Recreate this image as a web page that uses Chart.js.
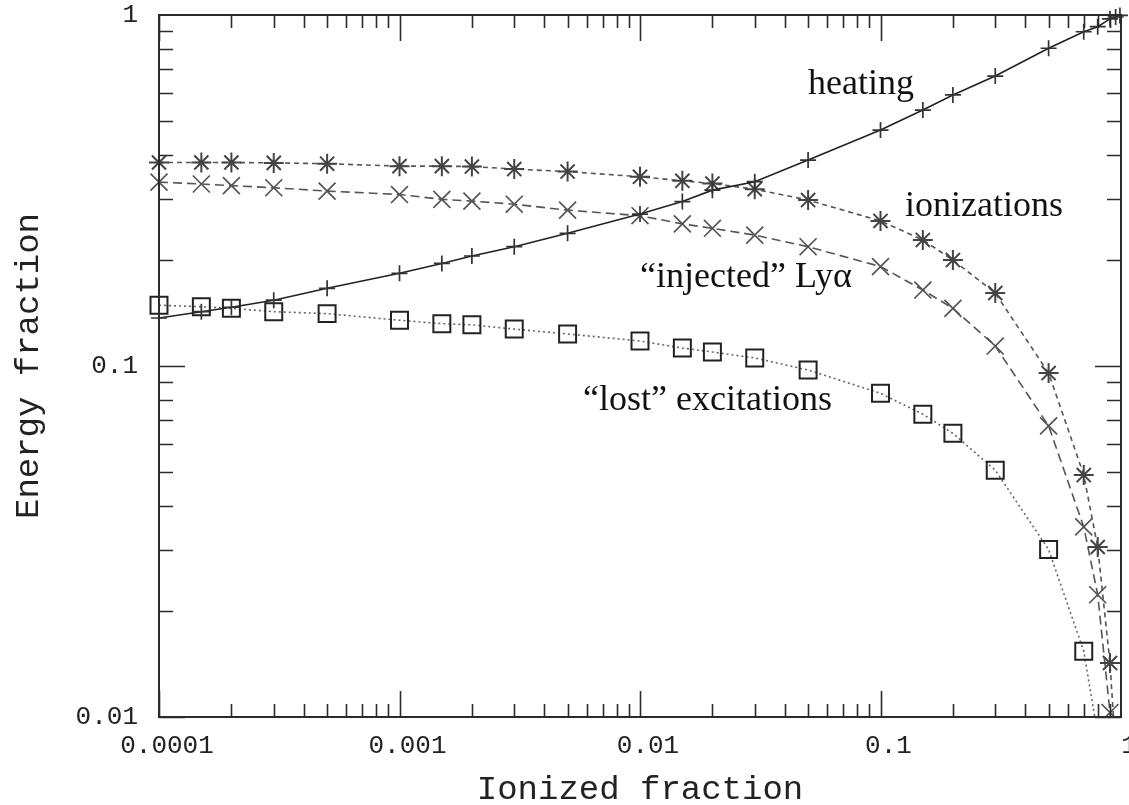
<!DOCTYPE html>
<html>
<head>
<meta charset="utf-8">
<title>Energy fraction vs ionized fraction</title>
<script src="https://cdn.jsdelivr.net/npm/chart.js@4/dist/chart.umd.min.js"></script>
<style>
    html, body { margin: 0; padding: 0; background: #fff; }
    #wrap { width: 1129px; height: 805px; position: relative; }
</style>
</head>
<body>
<div id="wrap"><canvas id="chart"></canvas></div>
<script>
// ionized fraction (x) shared by all curves
const ionizedFraction = [1e-4, 1.5e-4, 2e-4, 3e-4, 5e-4, 1e-3, 1.5e-3, 2e-3, 3e-3, 5e-3,
    0.01, 0.015, 0.02, 0.03, 0.05, 0.1, 0.15, 0.2, 0.3, 0.5, 0.7, 0.8, 0.9, 0.95, 0.99];

const heating = [0.137, 0.1428, 0.147, 0.154, 0.1665, 0.1837, 0.196, 0.2058, 0.2187, 0.2388,
    0.271, 0.294, 0.317, 0.335, 0.386, 0.470, 0.536, 0.592, 0.670, 0.804, 0.896, 0.926, 0.975, 0.987, 0.997];
const ionizations = [0.38, 0.38, 0.38, 0.379, 0.377, 0.371, 0.371, 0.37, 0.364, 0.358,
    0.346, 0.337, 0.331, 0.319, 0.297, 0.259, 0.2286, 0.2004, 0.1614, 0.0955, 0.0489, 0.0305, 0.01425, 0.008, null];
const injectedLya = [0.334, 0.330, 0.3265, 0.322, 0.315, 0.308, 0.2985, 0.295, 0.289, 0.278,
    0.268, 0.254, 0.2468, 0.236, 0.2187, 0.192, 0.1646, 0.146, 0.114, 0.0675, 0.0348, 0.0223, 0.0103, 0.006, null];
const lostExcitations = [0.149, 0.1475, 0.146, 0.1428, 0.141, 0.135, 0.132, 0.131, 0.1274, 0.1234,
    0.1178, 0.1125, 0.1096, 0.1054, 0.0974, 0.0836, 0.0729, 0.0643, 0.0505, 0.030, 0.0154, 0.0089, null, null, null];

const xTickValues = [1e-4, 1e-3, 0.01, 0.1, 1];
const xTickLabels = ['0.0001', '0.001', '0.01', '0.1', '1'];
const yTickValues = [0.01, 0.1, 1];
const yTickLabels = ['0.01', '0.1', '1'];

// curve labels, anchored at data coordinates (left edge, baseline)
const curveLabels = ['heating', 'ionizations', '\u201cinjected\u201d Ly\u03b1', '\u201clost\u201d excitations'];
const curveLabelX = [0.05, 0.1265, 0.01, 0.0058];
const curveLabelY = [0.595, 0.2676, 0.168, 0.0749];

const toPoints = ys => ionizedFraction.map((x, i) => ({ x: x, y: ys[i] })).filter(p => p.y !== null);

const monoFont = 'Liberation Mono, Courier New, monospace';

function series(label, ys, style) {
    return Object.assign({
        label: label,
        data: toPoints(ys),
        fill: false,
        tension: 0,
        borderWidth: 1.6,
        pointBorderWidth: 1.7,
        pointBackgroundColor: 'rgba(0,0,0,0)',
        clip: { left: 15, top: 15, right: 12, bottom: 0 }
    }, style);
}

// inward ticks on all four sides plus the frame
const frameTicks = {
    id: 'frameTicks',
    afterDatasetsDraw(chart) {
        const { ctx, chartArea: a } = chart;
        const xs = chart.scales.x, ys = chart.scales.y;
        ctx.save();
        ctx.strokeStyle = '#2b2b2b';
        ctx.lineWidth = 1.6;
        ctx.beginPath();
        for (let d = -4; d < 0; d++) {
            for (let m = 1; m <= 9; m++) {
                const v = m * Math.pow(10, d);
                const px = Math.round(xs.getPixelForValue(v)) + 0.5;
                const len = m === 1 ? 26 : 13;
                ctx.moveTo(px, a.bottom); ctx.lineTo(px, a.bottom - len);
                ctx.moveTo(px, a.top); ctx.lineTo(px, a.top + len);
            }
        }
        for (let d = -2; d < 0; d++) {
            for (let m = 1; m <= 9; m++) {
                const v = m * Math.pow(10, d);
                const py = Math.round(ys.getPixelForValue(v)) + 0.5;
                const len = m === 1 ? 26 : 14;
                ctx.moveTo(a.left, py); ctx.lineTo(a.left + len, py);
                ctx.moveTo(a.right, py); ctx.lineTo(a.right - len, py);
            }
        }
        ctx.stroke();
        ctx.lineWidth = 2;
        ctx.strokeRect(a.left, a.top, a.right - a.left, a.bottom - a.top);

        ctx.fillStyle = '#111';
        ctx.font = '36px "Liberation Serif", "Times New Roman", serif';
        ctx.textBaseline = 'alphabetic';
        ctx.textAlign = 'left';
        curveLabels.forEach((t, i) => {
            ctx.fillText(t, xs.getPixelForValue(curveLabelX[i]), ys.getPixelForValue(curveLabelY[i]));
        });
        ctx.restore();
    }
};

const ctx = document.getElementById('chart').getContext('2d');
new Chart(ctx, {
    type: 'line',
    data: {
        datasets: [
            series('heating', heating, {
                borderColor: '#222', pointStyle: 'cross', pointRadius: 8, pointBorderColor: '#333'
            }),
            series('ionizations', ionizations, {
                borderColor: '#555', borderDash: [5, 4], pointStyle: 'star', pointRadius: 10, pointBorderColor: '#444', pointBorderWidth: 2
            }),
            series('injected', injectedLya, {
                borderColor: '#555', borderDash: [9, 5], pointStyle: 'crossRot', pointRadius: 12, pointBorderColor: '#555'
            }),
            series('lost', lostExcitations, {
                borderColor: '#666', borderDash: [2, 3], pointStyle: 'rect', pointRadius: 12, pointBorderColor: '#222', pointBorderWidth: 2
            })
        ]
    },
    options: {
        responsive: true,
        maintainAspectRatio: false,
        animation: false,
        layout: { autoPadding: false, padding: { top: 15, right: 8, left: 0, bottom: 0 } },
        plugins: { legend: { display: false }, tooltip: { enabled: false } },
        scales: {
            x: {
                type: 'logarithmic',
                min: 1e-4,
                max: 1,
                grid: { display: false, drawTicks: false },
                border: { display: false },
                afterBuildTicks: s => { s.ticks = xTickValues.map(v => ({ value: v })); },
                afterFit: s => { s.height = 88; s.paddingLeft = 0; s.paddingRight = 0; },
                ticks: {
                    autoSkip: false,
                    maxRotation: 0,
                    padding: 14,
                    labelOffset: 8,
                    color: '#222',
                    font: { family: monoFont, size: 26 },
                    callback: (v, i) => xTickLabels[i]
                },
                title: {
                    display: true,
                    text: 'Ionized fraction',
                    color: '#222',
                    padding: 0,
                    font: { family: monoFont, size: 34, lineHeight: 0.9 }
                }
            },
            y: {
                type: 'logarithmic',
                min: 0.01,
                max: 1,
                grid: { display: false, drawTicks: false },
                border: { display: false },
                afterBuildTicks: s => { s.ticks = yTickValues.map(v => ({ value: v })); },
                afterFit: s => { s.width = 159; s.paddingTop = 0; s.paddingBottom = 0; },
                ticks: {
                    autoSkip: false,
                    padding: 21,
                    color: '#222',
                    font: { family: monoFont, size: 26 },
                    callback: (v, i) => yTickLabels[i]
                },
                title: {
                    display: true,
                    text: 'Energy fraction',
                    color: '#222',
                    padding: { top: 14, bottom: 0 },
                    font: { family: monoFont, size: 34, lineHeight: 0.9 }
                }
            }
        }
    },
    plugins: [frameTicks]
});
</script>
</body>
</html>
